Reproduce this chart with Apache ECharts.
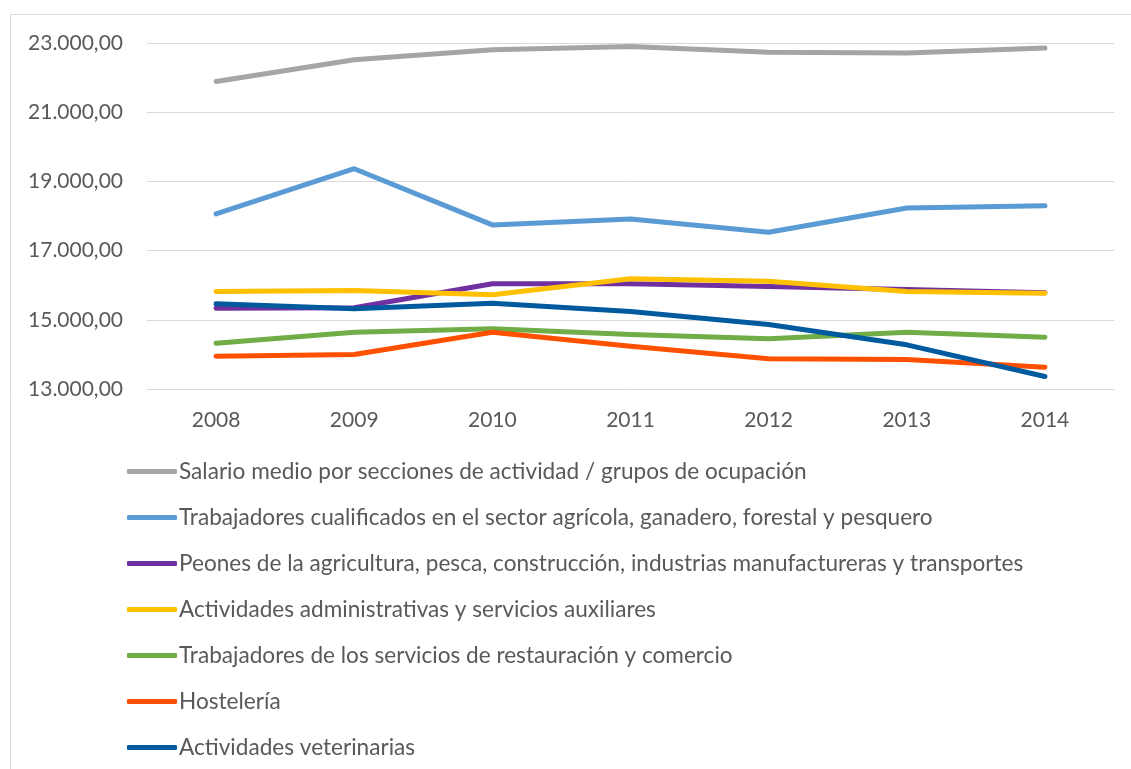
<!DOCTYPE html>
<html>
<head>
<meta charset="utf-8">
<script src="https://cdn.jsdelivr.net/npm/echarts@6/dist/echarts.min.js"></script>
<style>
  html, body { margin: 0; padding: 0; background: #fff; }
  #graphic { width: 1131px; height: 769px; }
</style>
</head>
<body>
<div id="graphic"></div>
<script>
// categorias (años)
var years = ['2008', '2009', '2010', '2011', '2012', '2013', '2014'];

// nombres de las series
var names = [
    'Salario medio por secciones de actividad / grupos de ocupación',
    'Trabajadores cualificados en el sector agrícola, ganadero, forestal y pesquero',
    'Peones de la agricultura, pesca, construcción, industrias manufactureras y transportes',
    'Actividades administrativas y servicios auxiliares',
    'Trabajadores de los servicios de restauración y comercio',
    'Hostelería',
    'Actividades veterinarias'
];

// valores
var salarioMedio   = [21890, 22517, 22806, 22900, 22730, 22710, 22855];
var cualificados   = [18058, 19367, 17743, 17916, 17529, 18231, 18298];
var peones         = [15335, 15347, 16040, 16040, 15962, 15876, 15780];
var administrativas= [15818, 15847, 15723, 16185, 16116, 15818, 15770];
var restauracion   = [14324, 14642, 14740, 14575, 14451, 14642, 14497];
var hosteleria     = [13948, 13997, 14642, 14234, 13873, 13853, 13630];
var veterinarias   = [15462, 15318, 15480, 15240, 14864, 14277, 13361];

var colors = ['#a5a5a5', '#5b9bd5', '#7030a0', '#ffc000', '#70ad47', '#ff5000', '#005a9e'];
var allData = [salarioMedio, cualificados, peones, administrativas, restauracion, hosteleria, veterinarias];

var FONT = 'Lato';
var TXT = '#595959';

function fmtNum(v){
    var s = Math.round(v).toString();
    s = s.replace(/\B(?=(\d{3})+(?!\d))/g, '.');
    return s + ',00';
}

function getSeries(){
    var ret = [];
    for(var i=0; i<names.length; i++){
        ret.push({
            name: names[i],
            type: 'line',
            data: allData[i],
            symbol: 'none',
            smooth: false,
            lineStyle: {width: 5, color: colors[i], cap: 'round', join: 'round'},
            itemStyle: {color: colors[i]}
        });
    }
    return ret;
}

var option = {
    animation: false,
    color: colors,
    graphic: [{
        type: 'rect',
        shape: {x: 10.5, y: 14.5, width: 1200, height: 800},
        style: {fill: 'none', stroke: '#d9d9d9', lineWidth: 1},
        silent: true
    }],
    grid: {left: 147, right: 17, top: 43, bottom: 380, containLabel: false},
    xAxis: {
        type: 'category',
        data: years,
        boundaryGap: true,
        axisLine: {show: true, lineStyle: {color: '#d9d9d9', width: 1}},
        axisTick: {show: false},
        axisLabel: {color: TXT, fontFamily: FONT, fontSize: 21, margin: 21}
    },
    yAxis: {
        type: 'value',
        min: 13000,
        max: 23000,
        interval: 2000,
        axisLine: {show: false},
        axisTick: {show: false},
        splitLine: {lineStyle: {color: '#d9d9d9', width: 1}},
        axisLabel: {color: TXT, fontFamily: FONT, fontSize: 21, margin: 24, formatter: fmtNum}
    },
    legend: {
        orient: 'vertical',
        left: 122,
        top: 455,
        height: 320,
        icon: 'roundRect',
        itemWidth: 50,
        itemHeight: 5,
        itemGap: 23,
        data: names,
        textStyle: {color: TXT, fontFamily: FONT, fontSize: 22.6, padding: [0, 0, 0, -3]}
    },
    series: getSeries()
};

var graphic = echarts.init(document.getElementById('graphic'));
graphic.setOption(option);
</script>
</body>
</html>
